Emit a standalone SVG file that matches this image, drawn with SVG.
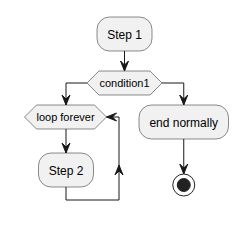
<svg xmlns="http://www.w3.org/2000/svg" width="246" height="232" viewBox="0 0 246 232">
<style>
.box{fill:#F1F1F1;stroke:#181818;stroke-width:0.5}
.t12{font-family:"Liberation Sans",Arial,sans-serif;font-size:12px;fill:#000;text-anchor:middle}
.t11{font-family:"Liberation Sans",Arial,sans-serif;font-size:11px;fill:#000;text-anchor:middle}
.ln{fill:none;stroke:#181818;stroke-width:1}
.ah{fill:#181818;stroke:#181818;stroke-width:1}
</style>
<rect width="246" height="232" fill="#FFFFFF"/>
<g id="step1">
<rect class="box" x="97" y="17" width="55" height="34" rx="12.5" ry="12.5"/>
<text class="t12" x="124.5" y="38.5">Step 1</text>
</g>
<g id="condition1">
<polygon class="box" points="87,83 99,71 150,71 162,83 150,95 99,95"/>
<text class="t11" x="124.5" y="87">condition1</text>
</g>
<g id="loop">
<polygon class="box" points="24.5,117 36.5,105 94.5,105 106.5,117 94.5,129 36.5,129"/>
<text class="t11" x="65.5" y="121">loop forever</text>
</g>
<g id="step2">
<rect class="box" x="38.5" y="153" width="55" height="34" rx="12.5" ry="12.5"/>
<text class="t12" x="66" y="174.5">Step 2</text>
</g>
<g id="endnormally">
<rect class="box" x="139" y="105" width="89.5" height="34" rx="12.5" ry="12.5"/>
<text class="t12" x="183.75" y="126.5">end normally</text>
</g>
<g id="end">
<circle cx="183.75" cy="185" r="11" fill="none" stroke="#222222" stroke-width="1"/>
<circle cx="183.75" cy="185" r="6.5" fill="#222222" stroke="#222222" stroke-width="1"/>
</g>
<g id="connectors">
<path class="ln" d="M124.5,51 L124.5,71"/>
<polygon class="ah" points="120.5,61 124.5,71 128.5,61 124.5,65"/>
<path class="ln" d="M87,83 L66,83 L66,105"/>
<polygon class="ah" points="62,95 66,105 70,95 66,99"/>
<path class="ln" d="M162,83 L183.75,83 L183.75,105"/>
<polygon class="ah" points="179.75,95 183.75,105 187.75,95 183.75,99"/>
<path class="ln" d="M66,129 L66,153"/>
<polygon class="ah" points="62,143 66,153 70,143 66,147"/>
<path class="ln" d="M66,187 L66,200 L119,200 L119,117 L106.5,117"/>
<polygon class="ah" points="115,175 119,165 123,175 119,171"/>
<polygon class="ah" points="116.5,113 106.5,117 116.5,121 112.5,117"/>
<path class="ln" d="M183.75,139 L183.75,174"/>
<polygon class="ah" points="179.75,164 183.75,174 187.75,164 183.75,168"/>
</g>
</svg>
